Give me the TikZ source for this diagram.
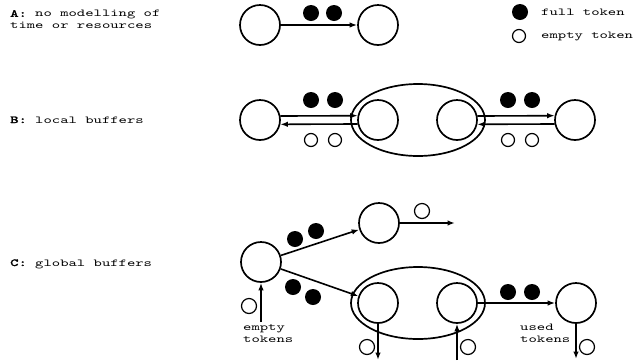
\documentclass[tikz,border=0pt]{standalone}
\usepackage{fontspec}
\newfontfamily\tmono[FakeStretch=1.5,BoldFont=lmmono10-regular.otf,BoldFeatures={FakeBold=2.5}]{lmmono10-regular.otf}
\usetikzlibrary{arrows.meta,calc,shapes.geometric}
\begin{document}
\begin{tikzpicture}[x=1pt,y=-1pt,
  place/.style={circle,draw,line width=1.7pt,minimum size=40pt,inner sep=0pt},
  full/.style={circle,fill=black,minimum size=16pt,inner sep=0pt},
  empty/.style={circle,draw,line width=1.2pt,minimum size=13pt,inner sep=0pt},
  emptyc/.style={circle,draw,line width=1.2pt,minimum size=15pt,inner sep=0pt},
  group/.style={ellipse,draw,line width=1.7pt,minimum width=134pt,minimum height=72pt,inner sep=0pt},
  arr/.style={-{Latex[length=7.5pt,width=5.5pt]},line width=1.6pt},
  lbl/.style={font=\tmono\fontsize{10.6}{12}\selectfont,inner sep=0pt,align=left},
]
\useasboundingbox (0,0) rectangle (634,360);

% labels
\node[lbl,anchor=north west] (la) at (10,10) {\textbf{A:} no modelling of\\time or resources};
\node[lbl,anchor=base west] (lb) at (10,123) {\textbf{B:} local buffers};
\node[lbl,anchor=base west] (lc) at (10,266) {\textbf{C:} global buffers};

% legend
\node[full] (lf) at (520,12) {};
\node[lbl,anchor=base west] (lft) at (541,15) {full token};
\node[empty] (le) at (519,36) {};
\node[lbl,anchor=base west] (let) at (541,38) {empty token};

% row A
\node[place] (a1) at (260,25) {};
\node[place] (a2) at (378,25) {};
\draw[arr] (a1) -- (a2);
\node[full] (af1) at (311,13) {};
\node[full] (af2) at (334,13) {};

% row B
\node[group] (bg) at (418,120) {};
\node[place] (b1) at (260,120) {};
\node[place] (b2) at (378,120) {};
\node[place] (b3) at (457,120) {};
\node[place] (b4) at (575,120) {};
\draw[arr] (b1.11.5) -- (b2.168.5);
\draw[arr] (b2.191.5) -- (b1.348.5);
\draw[arr] (b3.11.5) -- (b4.168.5);
\draw[arr] (b4.191.5) -- (b3.348.5);
\node[full] (bf1) at (311,100) {};
\node[full] (bf2) at (335,100) {};
\node[empty] (be1) at (311,140) {};
\node[empty] (be2) at (335,140) {};
\node[full] (bf3) at (508,100) {};
\node[full] (bf4) at (532,100) {};
\node[empty] (be3) at (508,140) {};
\node[empty] (be4) at (532,140) {};

% row C
\node[group] (cg) at (418,303) {};
\node[place] (c1) at (261,262) {};
\node[place] (c2) at (379,223) {};
\node[place] (c3) at (378,303) {};
\node[place] (c4) at (457,303) {};
\node[place] (c5) at (576,303) {};
\coordinate (c2out) at (455,223);
\coordinate (c1in) at (261,322);
\coordinate (c3out) at (378,360);
\coordinate (c4in) at (457,360);
\coordinate (c5out) at (576,359);
\draw[arr] (c1) -- (c2);
\draw[arr] (c1) -- (c3);
\draw[arr] (c2) -- (c2out);
\draw[arr] (c4) -- (c5);
\draw[arr] (c1in) -- (c1);
\draw[arr] (c3) -- (c3out);
\draw[arr] (c4in) -- (c4);
\draw[arr] (c5) -- (c5out);
\node[full] (cf1) at (295,239) {};
\node[full] (cf2) at (316,231) {};
\node[full] (cf3) at (293,287) {};
\node[full] (cf4) at (313,297) {};
\node[full] (cf5) at (508,292) {};
\node[full] (cf6) at (532,292) {};
\node[emptyc] (ce1) at (422,211) {};
\node[emptyc] (ce2) at (249,306) {};
\node[emptyc] (ce3) at (367,347) {};
\node[emptyc] (ce4) at (468,347) {};
\node[emptyc] (ce5) at (587,347) {};
\node[lbl,anchor=base west] (tin) at (243,342) {empty\\tokens};
\node[lbl,anchor=base west] (tout) at (520,342) {used\\tokens};
\end{tikzpicture}
\end{document}
